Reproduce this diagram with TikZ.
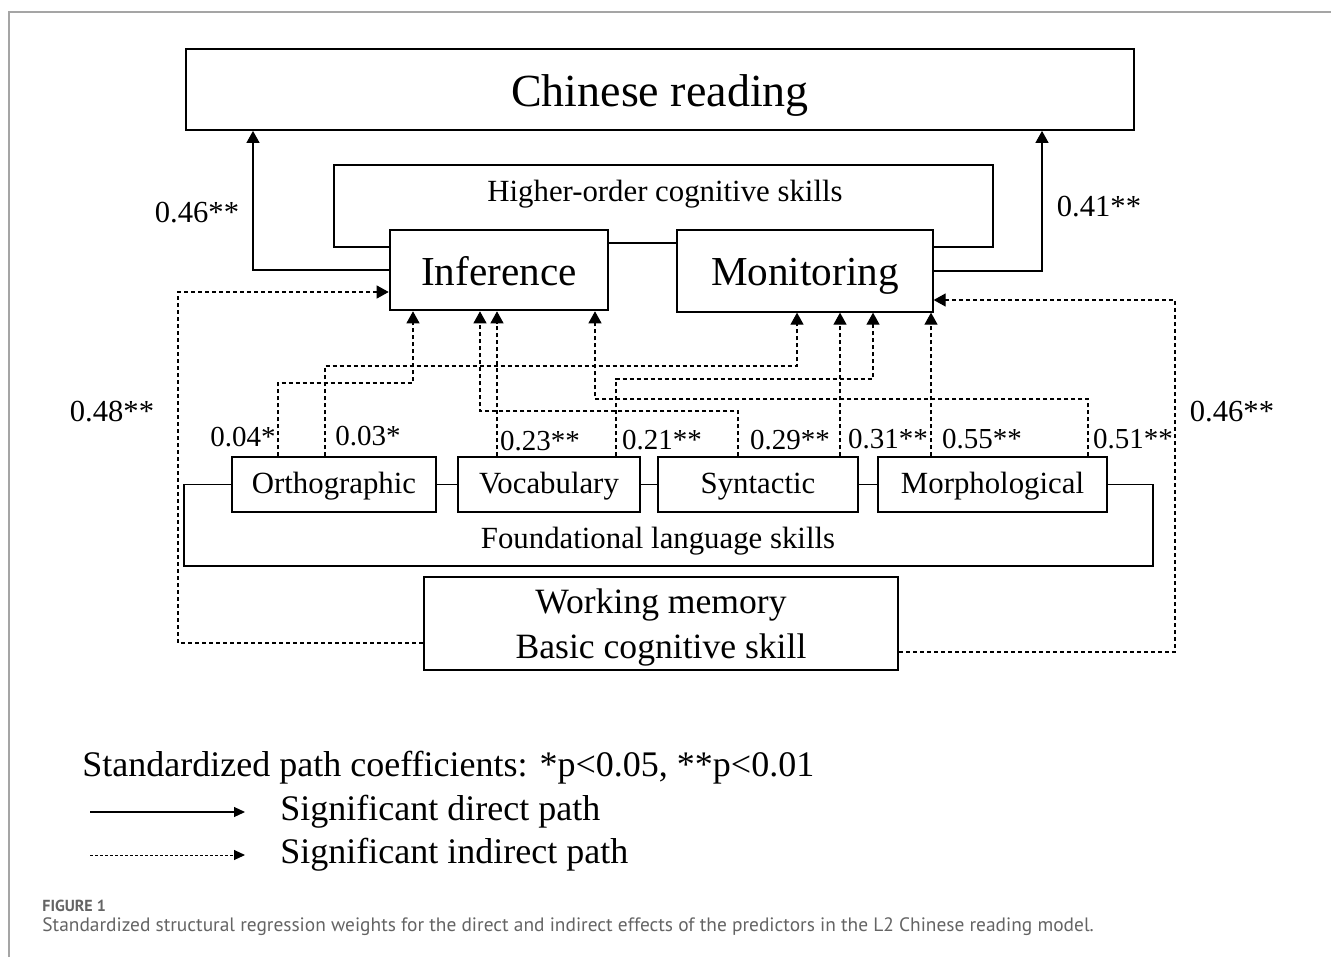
\documentclass[tikz,border=0pt]{standalone}
\usepackage{fontspec}
\setmainfont{Liberation Serif}
\newfontfamily\capfont{PT Sans}
\usetikzlibrary{arrows.meta}

\definecolor{capgray}{RGB}{100,100,100}
\definecolor{framegray}{RGB}{165,165,165}

\tikzset{
	box/.style={draw, line width=0.65pt, inner sep=0pt, text height=8.5pt, text depth=0pt, font=\fontsize{15.4}{18}\selectfont},
	bigbox/.style={draw, line width=1.3pt, inner sep=0pt},
	plain/.style={inner sep=0pt, font=\fontsize{15.4}{18}\selectfont},
	coef/.style={inner sep=0pt, font=\fontsize{14.5}{17}\selectfont},
	sidecoef/.style={inner sep=0pt, font=\fontsize{15.3}{18}\selectfont},
	direct/.style={line width=0.65pt, -{Triangle[length=6pt,width=6.5pt]}},
	indirect/.style={line width=0.6pt, dash pattern=on 2pt off 1.5pt, -{Triangle[length=6pt,width=6.5pt]}},
	legdirect/.style={line width=0.6pt, -{Triangle[length=5.5pt,width=5pt]}},
	legindirect/.style={line width=0.5pt, dash pattern=on 1.5pt off 1pt, -{Triangle[length=5.5pt,width=5pt]}},
}

\begin{document}
\begin{tikzpicture}[x=0.5pt,y=-0.5pt]
	\useasboundingbox (0,0) rectangle (1331,957);
	\draw[framegray, line width=0.6pt] (9,957) -- (9,12) -- (1331,12);
	
	% boxes
	\node[draw, line width=0.9pt, inner sep=0pt, minimum width=474pt, minimum height=40.5pt, text height=17.5pt, text depth=0pt, font=\fontsize{23}{27}\selectfont] (read) at (660,89.5) {Chinese reading};
	\node[plain] (hoc) at (665,194) {Higher-order cognitive skills};
	\node[bigbox, minimum width=109pt, minimum height=40pt, text height=15pt, text depth=0pt, font=\fontsize{20.6}{24}\selectfont] (inf) at (499,270) {Inference};
	\node[box, minimum width=128pt, minimum height=41pt, text height=14.5pt, font=\fontsize{20.6}{24}\selectfont] (mon) at (805,271) {Monitoring};
	
	\node[box, minimum width=102pt, minimum height=27.5pt] (orth) at (334,484.5) {Orthographic};
	\node[box, minimum width=91pt, minimum height=27.5pt] (voc) at (549,484.5) {Vocabulary};
	\node[box, minimum width=100pt, minimum height=27.5pt] (syn) at (758,484.5) {Syntactic};
	\node[box, minimum width=114.5pt, minimum height=27.5pt] (mor) at (992.5,484.5) {Morphological};
	\node[plain] (fls) at (658,541) {Foundational language skills};
	
	\node[bigbox, minimum width=237pt, minimum height=46.5pt, align=center, text depth=0pt, font=\fontsize{17.8}{22.5}\selectfont] (wm) at (661,623.5) {Working memory\\Basic cognitive skill};
	
	% bends
	\coordinate (kA) at (253,0);
	\coordinate (kB) at (1042,0);
	\coordinate (hl) at (334,165);
	\coordinate (hr) at (993,165);
	\coordinate (rH) at (0,247);
	\coordinate (rM) at (0,243);
	\coordinate (fl) at (184,566);
	\coordinate (fr) at (1153,566);
	\coordinate (kL) at (178,0);
	\coordinate (kR) at (1175,0);
	\coordinate (rWL) at (0,643);
	\coordinate (rWR) at (0,652);
	\coordinate (rIL) at (0,292);
	\coordinate (rMR) at (0,300);
	
	% solid lines
	\draw[direct] (inf.west) -| (kA |- read.south);
	\draw[direct] (mon.east) -| (kB |- read.south);
	\draw[line width=0.65pt] (inf.west |- rH) -| (hl) -| (hr) |- (mon.east |- rH);
	\draw[line width=0.65pt] (inf.east |- rM) -- (mon.west |- rM);
	\draw[line width=0.65pt] (orth.east) -- (voc.west);
	\draw[line width=0.65pt] (voc.east) -- (syn.west);
	\draw[line width=0.65pt] (syn.east) -- (mor.west);
	\draw[line width=0.65pt] (orth.west) -| (fl) -| (fr) |- (mor.east);
	
	% working memory paths
	\draw[indirect] (wm.west |- rWL) -| (kL |- rIL) -- (inf.west |- rIL);
	\draw[indirect] (wm.east |- rWR) -| (kR |- rMR) -- (mon.east |- rMR);
	
	% skill paths
	\coordinate (oiA) at (278,383); \coordinate (oiB) at (413,383);
	\coordinate (omA) at (325,366); \coordinate (omB) at (797,366);
	\coordinate (vi) at (497,0);
	\coordinate (vmA) at (616,379); \coordinate (vmB) at (873,379);
	\coordinate (siA) at (738,411); \coordinate (siB) at (480,411);
	\coordinate (sm) at (840,0);
	\coordinate (miA) at (1088,399); \coordinate (miB) at (595,399);
	\coordinate (mm) at (931,0);
	
	\draw[indirect] (orth.north -| oiA) -- (oiA) -- (oiB) -- (inf.south -| oiB);
	\draw[indirect] (orth.north -| omA) -- (omA) -- (omB) -- (mon.south -| omB);
	\draw[indirect] (voc.north -| vi) -- (inf.south -| vi);
	\draw[indirect] (voc.north -| vmA) -- (vmA) -- (vmB) -- (mon.south -| vmB);
	\draw[indirect] (syn.north -| siA) -- (siA) -- (siB) -- (inf.south -| siB);
	\draw[indirect] (syn.north -| sm) -- (mon.south -| sm);
	\draw[indirect] (mor.north -| miA) -- (miA) -- (miB) -- (inf.south -| miB);
	\draw[indirect] (mor.north -| mm) -- (mon.south -| mm);
	
	% coefficients
	\node[coef] (c1) at (243,437) {0.04*};
	\node[coef] (c2) at (368,436) {0.03*};
	\node[coef] (c3) at (540,441) {0.23**};
	\node[coef] (c4) at (662,440) {0.21**};
	\node[coef] (c5) at (790,440) {0.29**};
	\node[coef] (c6) at (888,439) {0.31**};
	\node[coef] (c7) at (982,439) {0.55**};
	\node[coef] (c8) at (1133,439) {0.51**};
	\node[sidecoef] (c9) at (197,213) {0.46**};
	\node[sidecoef] (c10) at (1099,207) {0.41**};
	\node[sidecoef] (c11) at (112,412) {0.48**};
	\node[sidecoef] (c12) at (1232,412) {0.46**};
	
	% legend
	\node[anchor=west, inner sep=0pt, font=\fontsize{18}{21}\selectfont] (leg) at (82,768) {Standardized path coefficients: *p<0.05, **p<0.01};
	\coordinate (lgA) at (90,812); \coordinate (lgB) at (245,812);
	\coordinate (lgC) at (90,855); \coordinate (lgD) at (245,855);
	\draw[legdirect] (lgA) -- (lgB);
	\draw[legindirect] (lgC) -- (lgD);
	\node[anchor=west, inner sep=0pt, font=\fontsize{18}{21}\selectfont] (legd) at (280,812) {Significant direct path};
	\node[anchor=west, inner sep=0pt, font=\fontsize{18}{21}\selectfont] (legi) at (280,855) {Significant indirect path};
	
	% caption
	\node[anchor=base west, inner sep=0pt, text=capgray, font=\capfont\bfseries\fontsize{8}{9}\selectfont] (fig) at (42,911) {FIGURE 1};
	\node[anchor=base west, inner sep=0pt, text=capgray, font=\capfont\fontsize{9.7}{11}\selectfont] (cap) at (42,931) {Standardized structural regression weights for the direct and indirect effects of the predictors in the L2 Chinese reading model.};
\end{tikzpicture}
\end{document}
